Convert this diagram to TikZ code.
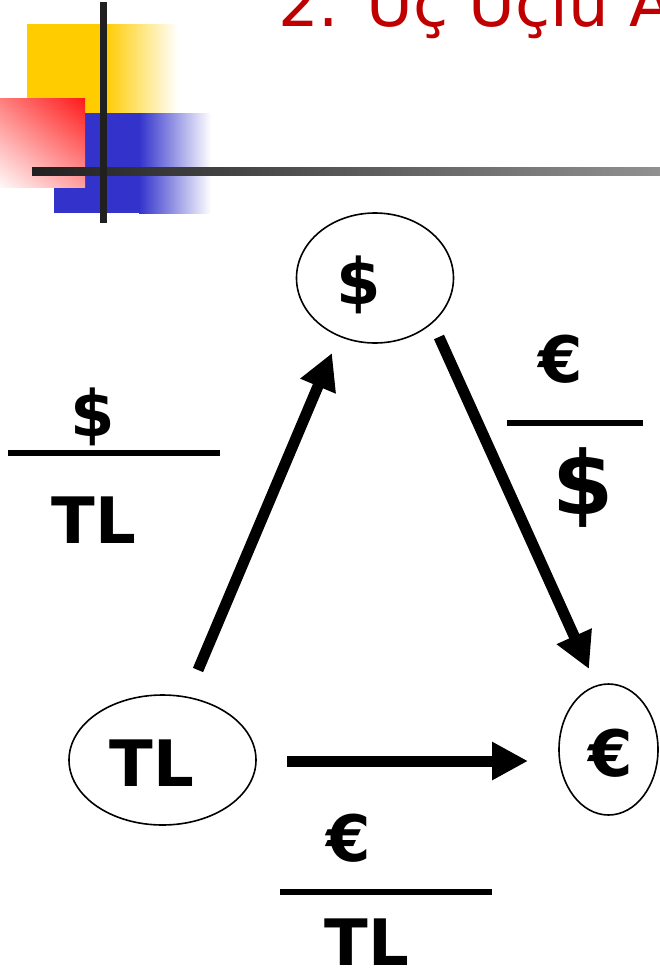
\documentclass[tikz,border=0pt]{standalone}
\usepackage{fontspec}
\setmainfont{DejaVu Sans}
\usetikzlibrary{arrows.meta,shapes.geometric,shadings}
\definecolor{yel}{RGB}{255,204,0}
\definecolor{blu}{RGB}{51,51,204}
\definecolor{ttlred}{RGB}{192,0,0}
\definecolor{dk}{RGB}{32,32,32}
\definecolor{lgray}{RGB}{145,145,145}
\definecolor{rUL}{RGB}{255,125,125}
\definecolor{rUR}{RGB}{255,25,25}
\definecolor{rLL}{RGB}{255,248,248}
\definecolor{rLR}{RGB}{255,160,160}
\begin{document}
\begin{tikzpicture}[x=1pt,y=-1pt,
  ring/.style={draw,line width=1.6pt,ellipse,inner sep=0},
  lbl/.style={font=\fontsize{64}{70}\selectfont\bfseries,inner sep=0,anchor=base},
  biglbl/.style={font=\fontsize{88}{96}\selectfont\bfseries,inner sep=0,anchor=base},
  ttl/.style={font=\fontsize{64}{72}\selectfont,text=ttlred,inner sep=0,anchor=base west},
  arr/.style={line width=11pt,-{Triangle[length=36pt,width=36pt]}},
  bar/.style={line width=5.5pt}]
\clip (0,0) rectangle (660,969);
\fill[white] (0,0) rectangle (660,969);
% decoration
\fill[yel] (27,24) rectangle (106,113);
\shade[left color=yel,right color=white] (105,24) rectangle (178,113);
\fill[blu] (54,113) rectangle (140,213);
\shade[left color=blu,right color=white] (139,113) rectangle (211,213);
\shade[upper left=rUL,upper right=rUR,lower left=rLL,lower right=rLR] (0,98) rectangle (85,187);
\shade[left color=dk,right color=lgray] (32,167) rectangle (660,175);
\fill[dk] (100,2) rectangle (107,223);
\node[ttl] (title) at (278,26) {2. Üç Uçlu Arbitraj};
% currency nodes
\node[ring,minimum width=157pt,minimum height=130pt] (usd) at (375,278) {};
\node[ring,minimum width=187pt,minimum height=130pt] (tl) at (162.5,760) {};
\node[ring,minimum width=99pt,minimum height=131pt] (eur) at (608.5,749.5) {};
\node[lbl] (usdt) at (359,304) {\$};
\node[lbl] (tlt) at (152,786) {TL};
\node[lbl] (eurt) at (611,776) {€};
% arrows
\coordinate (a1s) at (198,670);
\coordinate (a1e) at (332,353);
\coordinate (a2s) at (439,337);
\coordinate (a2e) at (589,669);
\coordinate (a3s) at (287,761);
\coordinate (a3e) at (528,761);
\draw[arr] (a1s) -- (a1e);
\draw[arr] (a2s) -- (a2e);
\draw[arr] (a3s) -- (a3e);
% rate labels
\node[lbl] (ln) at (93,436) {\$};
\coordinate (lb1) at (8,453);
\coordinate (lb2) at (220,453);
\draw[bar] (lb1) -- (lb2);
\node[lbl] (ld) at (94,543) {TL};
\node[lbl] (rn) at (561,382) {€};
\coordinate (rb1) at (507,423);
\coordinate (rb2) at (643,423);
\draw[bar] (rb1) -- (rb2);
\node[biglbl] (rd) at (583,514) {\$};
\node[lbl] (bn) at (349,861) {€};
\coordinate (bb1) at (280,892);
\coordinate (bb2) at (492,892);
\draw[bar] (bb1) -- (bb2);
\node[lbl] (bd) at (367,965) {TL};
\end{tikzpicture}
\end{document}
